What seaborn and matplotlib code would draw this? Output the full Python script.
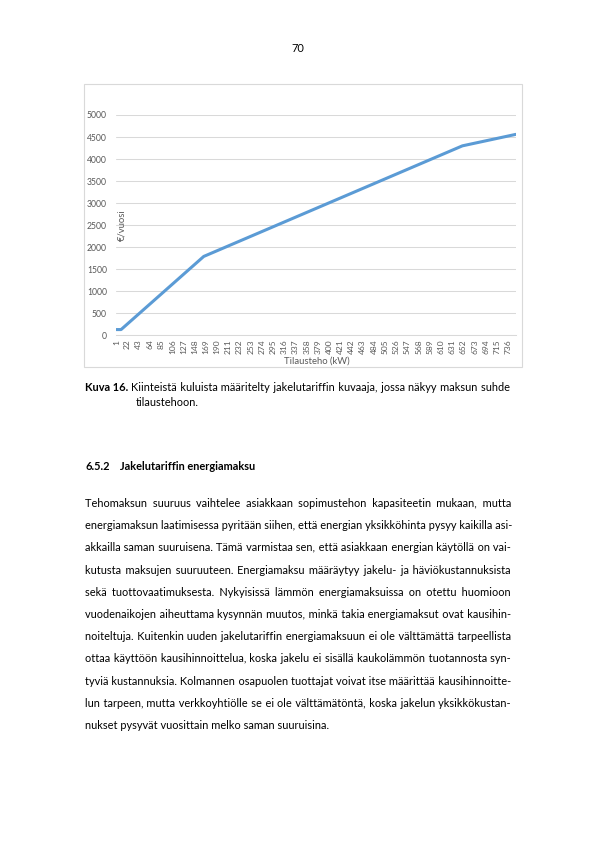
import matplotlib
matplotlib.use("Agg")
import matplotlib.pyplot as plt
import seaborn as sns
import pandas as pd
from matplotlib.patches import Rectangle

# ---------------- data ----------------
tilausteho_kw = [1, 10, 165, 650, 750]          # breakpoints of the tariff curve
maksu_eur_vuosi = [130, 130, 1790, 4300, 4560]  # €/vuosi at those breakpoints
x_tick_labels = [1, 22, 43, 64, 85, 106, 127, 148, 169, 190, 211, 232, 253, 274,
                 295, 316, 337, 358, 379, 400, 421, 442, 463, 484, 505, 526, 547,
                 568, 589, 610, 631, 652, 673, 694, 715, 736]
y_ticks = [0, 500, 1000, 1500, 2000, 2500, 3000, 3500, 4000, 4500, 5000]

page_number = "70"
caption_bold = "Kuva 16."
caption_line1 = "Kiinteistä kuluista määritelty jakelutariffin kuvaaja, jossa näkyy maksun suhde"
caption_line2 = "tilaustehoon."
heading_num = "6.5.2"
heading_text = "Jakelutariffin energiamaksu"
paragraph_lines = [
    "Tehomaksun suuruus vaihtelee asiakkaan sopimustehon kapasiteetin mukaan, mutta",
    "energiamaksun laatimisessa pyritään siihen, että energian yksikköhinta pysyy kaikilla asi-",
    "akkailla saman suuruisena. Tämä varmistaa sen, että asiakkaan energian käytöllä on vai-",
    "kutusta maksujen suuruuteen. Energiamaksu määräytyy jakelu- ja häviökustannuksista",
    "sekä tuottovaatimuksesta. Nykyisissä lämmön energiamaksuissa on otettu huomioon",
    "vuodenaikojen aiheuttama kysynnän muutos, minkä takia energiamaksut ovat kausihin-",
    "noiteltuja. Kuitenkin uuden jakelutariffin energiamaksuun ei ole välttämättä tarpeellista",
    "ottaa käyttöön kausihinnoittelua, koska jakelu ei sisällä kaukolämmön tuotannosta syn-",
    "tyviä kustannuksia. Kolmannen osapuolen tuottajat voivat itse määrittää kausihinnoitte-",
    "lun tarpeen, mutta verkkoyhtiölle se ei ole välttämätöntä, koska jakelun yksikkökustan-",
    "nukset pysyvät vuosittain melko saman suuruisina.",
]

# ---------------- figure ----------------
W, H = 595, 841
sns.set_style("white")
plt.rcParams["font.family"] = ["Lato", "DejaVu Sans"]

fig = plt.figure(figsize=(W / 100, H / 100), dpi=100)
fig.patch.set_facecolor("white")


def fx(px):
    return px / W


def fy(py):
    return 1 - py / H


# chart frame
fig.add_artist(Rectangle((fx(84), fy(366.7)), (521.7 - 84) / W, (366.7 - 84.3) / H,
                         transform=fig.transFigure, fill=False,
                         edgecolor="#D9D9D9", linewidth=0.8))

ax = fig.add_axes([fx(116), fy(335.3), (516 - 116) / W, (335.3 - 115) / H])
df = pd.DataFrame({"Tilausteho (kW)": tilausteho_kw, "€/vuosi": maksu_eur_vuosi})
sns.lineplot(data=df, x="Tilausteho (kW)", y="€/vuosi", ax=ax,
             color="#5B9BD5", linewidth=2.2)
ax.set_xlim(0.5, 750.5)
ax.set_ylim(0, 5000)
ax.set_yticks(y_ticks)
ax.set_yticklabels([str(v) for v in y_ticks])
ax.set_xticks(x_tick_labels)
ax.set_xticklabels([str(v) for v in x_tick_labels], rotation=90)
ax.grid(axis="y", color="#D9D9D9", linewidth=0.75)
ax.grid(axis="x", visible=False)
ax.set_axisbelow(True)
for s in ["top", "right", "left"]:
    ax.spines[s].set_visible(False)
ax.spines["bottom"].set_color("#D9D9D9")
ax.spines["bottom"].set_linewidth(0.75)
ax.tick_params(axis="both", length=0, colors="#595959")
ax.tick_params(axis="y", labelsize=6.2, pad=6.5)
ax.tick_params(axis="x", labelsize=6.0, pad=3.2)
ax.set_xlabel("Tilausteho (kW)", fontsize=6.8, color="#595959")
ax.xaxis.set_label_coords(0.502, -0.115)
ax.xaxis.label.set_va("center")
ax.set_ylabel("€/vuosi", fontsize=6.8, color="#595959")
ax.yaxis.set_label_coords(0.014, 0.5)
ax.yaxis.label.set_va("center")

# ---------------- page text ----------------
renderer = fig.canvas.get_renderer()
LEFT, RIGHT = 85, 511


def measure(s, fs, weight="normal"):
    t = fig.text(0, 0, s, fontsize=fs, fontweight=weight)
    w = t.get_window_extent(renderer).width
    t.remove()
    return w


# choose the body font size so the tightest justified line fits with normal spaces
probe_fs = 8.0
justified = paragraph_lines[:-1]
widest = max(measure(l, probe_fs) for l in justified)
BODY_FS = probe_fs * (RIGHT - LEFT - 1) / widest


def gap_unit(ch, fs, weight="normal"):
    return measure("a" + ch + "a", fs, weight) - measure("aa", fs, weight)


def justify_string(words, target, fs, weight="normal"):
    base = " ".join(words)
    n = len(words) - 1
    wb = measure(base, fs, weight)
    extra = target - wb
    if n <= 0 or extra <= 0.5:
        return base
    w_sp = gap_unit(" ", fs, weight)
    w_hair = gap_unit("\u200a", fs, weight)
    per = extra / n
    m = int(per // w_sp) if w_sp > 0 else 0
    rem = per - m * w_sp
    s = words[0]
    acc = 0.0
    for w in words[1:]:
        acc += rem
        k = 0
        if w_hair > 0.2:
            k = int(round(acc / w_hair))
            acc -= k * w_hair
        s += " " * (1 + m) + "\u200a" * k + w
    return s


def put(x, yc, s, fs, weight="normal", ha="left"):
    base = yc + 0.27 * fs * 100 / 72
    fig.text(fx(x), fy(base), s, fontsize=fs, fontweight=weight,
             ha=ha, va="baseline", color="black")


# page number
put(297.5, 49, page_number, BODY_FS, ha="center")

# caption
bold_w = measure(caption_bold, BODY_FS, "bold")
sp_w = gap_unit(" ", BODY_FS)
put(LEFT, 388, caption_bold, BODY_FS, "bold")
cap_x = LEFT + bold_w + sp_w
put(cap_x, 388, justify_string(caption_line1.split(), 510 - cap_x, BODY_FS), BODY_FS)
put(136, 403, caption_line2, BODY_FS)

# heading
put(LEFT, 467, heading_num, BODY_FS, "bold")
put(120, 467, heading_text, BODY_FS, "bold")

# paragraph (justified except last line)
y0, dy = 504, 22.2
for i, line in enumerate(paragraph_lines):
    last = i == len(paragraph_lines) - 1
    s = line if last else justify_string(line.split(), RIGHT - LEFT, BODY_FS)
    put(LEFT, y0 + i * dy, s, BODY_FS)

fig.savefig("out.png", dpi=100, facecolor="white")
